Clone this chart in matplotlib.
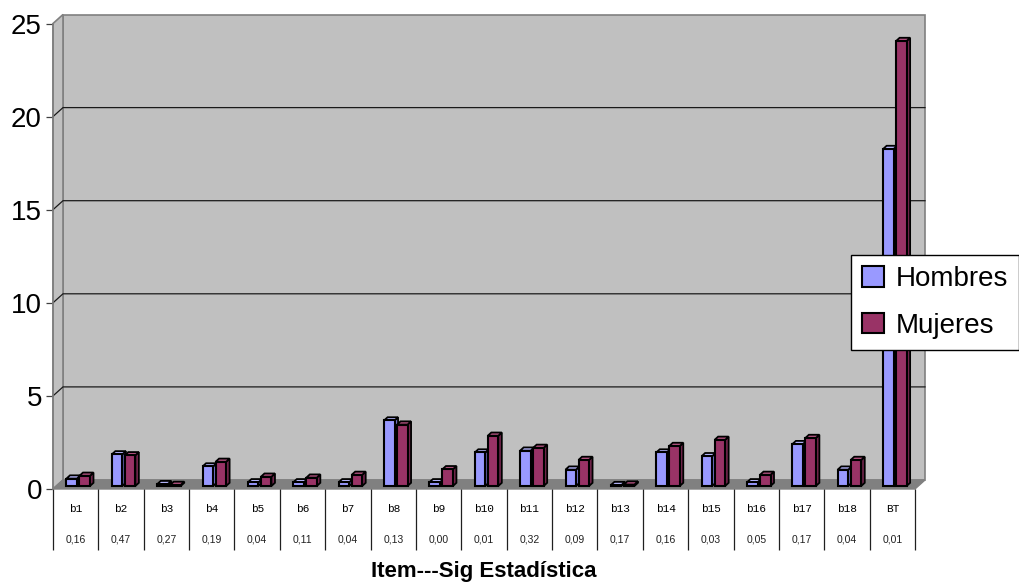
import matplotlib
matplotlib.use("Agg")
import matplotlib.pyplot as plt
from matplotlib.patches import Polygon, Patch

plt.rcParams["font.family"] = ["Liberation Sans", "DejaVu Sans"]

# ---- data -------------------------------------------------------------
items = ["b1", "b2", "b3", "b4", "b5", "b6", "b7", "b8", "b9", "b10",
         "b11", "b12", "b13", "b14", "b15", "b16", "b17", "b18", "BT"]
sig = ["0,16", "0,47", "0,27", "0,19", "0,04", "0,11", "0,04", "0,13", "0,00",
       "0,01", "0,32", "0,09", "0,17", "0,16", "0,03", "0,05", "0,17", "0,04", "0,01"]
hombres = [0.40, 1.70, 0.10, 1.05, 0.20, 0.20, 0.20, 3.52, 0.20, 1.80,
           1.90, 0.88, 0.05, 1.80, 1.60, 0.20, 2.25, 0.88, 18.1]
mujeres = [0.55, 1.65, 0.06, 1.30, 0.50, 0.45, 0.60, 3.30, 0.90, 2.70,
           2.05, 1.40, 0.08, 2.15, 2.48, 0.60, 2.58, 1.40, 23.9]
series_names = ["Hombres", "Mujeres"]
yticks = [0, 5, 10, 15, 20, 25]
xlabel = "Item---Sig Estadística"

# ---- colours ----------------------------------------------------------
front_col = ["#9999FF", "#993366"]
side_col = ["#7373CC", "#73264D"]
top_col = ["#B8B8FF", "#B35280"]
wall_col = "#C0C0C0"
floor_col = "#808080"
border_col = "#808080"

# ---- figure / axes frame (front plane of the chart) --------------------
W, H = 1019, 585
fig = plt.figure(figsize=(W / 100, H / 100), dpi=100)
L, R, B, T = 53, 915, 489, 23.5
ax = fig.add_axes([L / W, 1 - B / H, (R - L) / W, (B - T) / H])
n = len(items)
ymax = yticks[-1]
ax.set_xlim(0, n)
ax.set_ylim(0, ymax)
ax.set_facecolor("none")

sx = (R - L) / n        # pixels per category
sy = (B - T) / ymax     # pixels per unit


def off(px_x, px_y):
    """pixel offset -> data offset (px_y positive upwards)"""
    return px_x / sx, px_y / sy


# walls and floor
dx, dy = off(10, 9)
back = Polygon([(dx, dy), (n + dx, dy), (n + dx, ymax + dy), (dx, ymax + dy)],
               closed=True, facecolor=wall_col, edgecolor=border_col, lw=1.2,
               clip_on=False, zorder=0)
side = Polygon([(0, 0), (dx, dy), (dx, ymax + dy), (0, ymax)], closed=True,
               facecolor=wall_col, edgecolor=border_col, lw=1.2,
               clip_on=False, zorder=0)
floor = Polygon([(0, 0), (n, 0), (n + dx, dy), (dx, dy)], closed=True,
                facecolor=floor_col, edgecolor=border_col, lw=1.0,
                clip_on=False, zorder=1)
for p in (back, side, floor):
    ax.add_patch(p)

for v in yticks[1:-1]:
    ax.plot([0, dx, n + dx], [v, v + dy, v + dy], color="#1a1a1a", lw=0.9,
            clip_on=False, zorder=0.5)

# bars with a small 3-D body
bx, by = off(3.3, 3)          # bars sit slightly back on the floor
bw = 10.5 / sx
ddx, ddy = off(3.5, 3.2)      # bar depth
lefts = [(-12.5 + 3.3) / sx, (0.5 + 3.3) / sx]
series = [hombres, mujeres]
z = 2
for i in range(n):
    c = i + 0.5
    for s in range(2):
        h = series[s][i]
        x0 = c + lefts[s]
        x1 = x0 + bw
        b0 = by
        top = b0 + h
        ax.add_patch(Polygon([(x1, b0), (x1 + ddx, b0 + ddy),
                              (x1 + ddx, top + ddy), (x1, top)], closed=True,
                             facecolor=side_col[s], edgecolor="black", lw=1.3,
                             joinstyle="miter", clip_on=False, zorder=z))
        ax.add_patch(Polygon([(x0, top), (x1, top), (x1 + ddx, top + ddy),
                              (x0 + ddx, top + ddy)], closed=True,
                             facecolor=top_col[s], edgecolor="black", lw=1.3,
                             joinstyle="miter", clip_on=False, zorder=z))
        ax.bar(x0, h, width=bw, bottom=b0, align="edge", color=front_col[s],
               edgecolor="black", lw=1.5, clip_on=False, zorder=z + 0.5)
        z += 1

# axis styling
for sp in ("top", "right", "bottom"):
    ax.spines[sp].set_visible(False)
ax.spines["left"].set_color(border_col)
ax.spines["left"].set_linewidth(1.2)
ax.set_xticks([])
ax.set_yticks(yticks)
ax.set_yticklabels([str(t) for t in yticks], fontsize=20)
ax.tick_params(axis="y", length=5, width=0.9, color="#404040", pad=3)

# data table under the chart
row1 = -20 / sy
row2 = -50 / sy
bottom_line = -61 / sy
ax.vlines(range(n + 1), bottom_line, 0, colors="#202020", lw=0.9, clip_on=False)
for i in range(n):
    ax.text(i + 0.5, row1, items[i], ha="center", va="center", fontsize=8,
            family=["Liberation Mono", "DejaVu Sans Mono"], clip_on=False)
    ax.text(i + 0.5, row2, sig[i], ha="center", va="center", fontsize=7.5,
            color="#202020", clip_on=False)

ax.text(n / 2, -82 / sy, xlabel, ha="center", va="center", fontsize=16,
        fontweight="bold", clip_on=False)

# legend
handles = [Patch(facecolor=front_col[k], edgecolor="black", lw=1.5)
           for k in range(2)]
leg = fig.legend(handles, series_names, loc="upper right",
                 bbox_to_anchor=(1.0, 1 - 255 / H), fontsize=20,
                 frameon=True, fancybox=False, shadow=False,
                 handlelength=0.8, handleheight=0.75, handletextpad=0.4,
                 labelspacing=0.75, borderpad=0.4, borderaxespad=0.0)
leg.get_frame().set_edgecolor("black")
leg.get_frame().set_linewidth(1.0)
leg.get_frame().set_alpha(1.0)
leg.set_zorder(100)

fig.savefig("out.png", dpi=100, facecolor="white")
